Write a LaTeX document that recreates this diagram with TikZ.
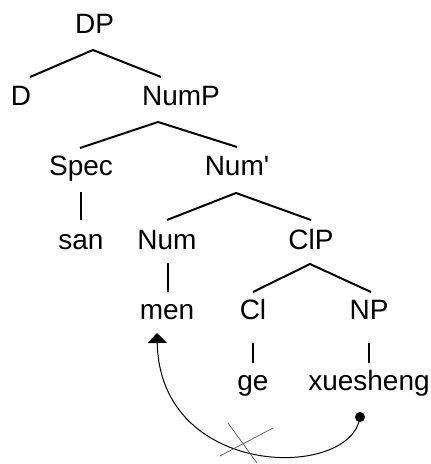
\documentclass[tikz,border=0pt]{standalone}
\usepackage{fontspec}
\setmainfont{Liberation Sans}
\usetikzlibrary{arrows.meta}
\begin{document}
\begin{tikzpicture}[x=1pt,y=1pt,
  lbl/.style={anchor=base,inner sep=0pt,font=\fontsize{28}{31}\selectfont},
  branch/.style={line width=2pt},
  move/.style={line width=1pt,-{Triangle[width=19pt,length=10pt]}},
  strike/.style={line width=0.8pt,draw=black!60}]
\useasboundingbox (0,0) rectangle (431,464);

% tree labels
\node[lbl] (DP)    at (94.5,430) {DP};
\node[lbl] (D)     at (21,358)   {D};
\node[lbl] (NumP)  at (181,358)  {NumP};
\node[lbl] (Spec)  at (81,288)   {Spec};
\node[lbl] (Numb)  at (237,288)  {Num\textquotesingle};
\node[lbl] (san)   at (81,214)   {san};
\node[lbl] (Num)   at (167,214)  {Num};
\node[lbl] (ClP)   at (311,214)  {ClP};
\node[lbl] (men)   at (167,144)  {men};
\node[lbl] (Cl)    at (253,144)  {Cl};
\node[lbl] (NP)    at (369,144)  {NP};
\node[lbl] (ge)    at (253,73)   {ge};
\node[lbl] (xs)    at (369,73)   {xuesheng};

% branches
\draw[branch] ([shift={(9,29)}]D.base) -- ([shift={(-1.5,-16)}]DP.base) -- ([shift={(-20,29)}]NumP.base);
\draw[branch] ([shift={(-1,28)}]Spec.base) -- ([shift={(-23,-16)}]NumP.base) -- ([shift={(0,29)}]Numb.base);
\draw[branch] ([shift={(0,-16)}]Spec.base) -- ([shift={(0,30)}]san.base);
\draw[branch] ([shift={(0,30)}]Num.base) -- ([shift={(-1,-17)}]Numb.base) -- ([shift={(0,30)}]ClP.base);
\draw[branch] ([shift={(1,-13)}]Num.base) -- ([shift={(1,28)}]men.base);
\draw[branch] ([shift={(0,28)}]Cl.base) -- ([shift={(-1,-14)}]ClP.base) -- ([shift={(2,28)}]NP.base);
\draw[branch] ([shift={(0,-23)}]Cl.base) -- ([shift={(0,28)}]ge.base);
\draw[branch] ([shift={(0,-23)}]NP.base) -- ([shift={(0,28)}]xs.base);

% movement arrow from the NP trace up to men, struck out
\node[circle,fill=black,inner sep=0pt,minimum size=10pt] (src) at (360,47) {};
\coordinate (tgt) at ([shift={(-10,-13)}]men.base);
\draw[move] (src.center) .. controls (352,-16) and (160,-16) .. (tgt);
\coordinate (cut) at (244,22);
\draw[strike] ([shift={(-24,-14)}]cut) -- ([shift={(29,14)}]cut);
\draw[strike] ([shift={(-16,19)}]cut) -- ([shift={(13,-21)}]cut);
\end{tikzpicture}
\end{document}
